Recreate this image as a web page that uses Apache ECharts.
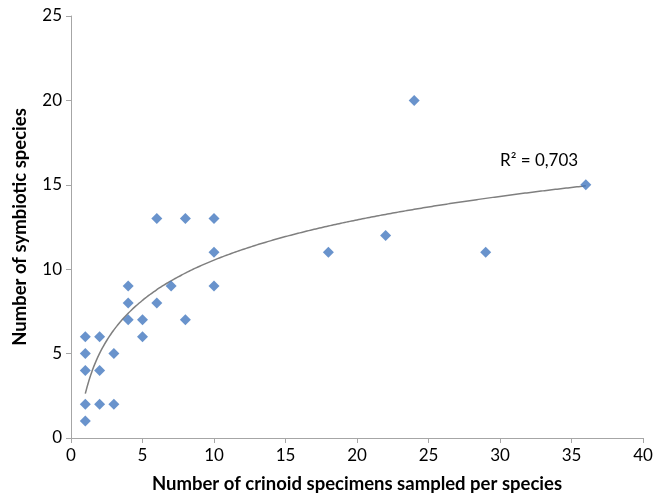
<!DOCTYPE html>
<html>
<head>
<meta charset="utf-8">
<script src="https://cdn.jsdelivr.net/npm/echarts@6/dist/echarts.min.js"></script>
<style>
  html, body { margin: 0; padding: 0; background: #fff; }
  #chart { width: 667px; height: 499px; }
</style>
</head>
<body>
<div id="chart"></div>
<script>
// specimens sampled per species (x) and symbiotic species (y)
var specimens = [1, 1, 1, 1, 1, 2, 2, 2, 3, 3, 4, 4, 4, 5, 5, 6, 6, 7, 8, 8, 10, 10, 10, 18, 22, 24, 29, 36];
var symbionts = [1, 2, 4, 5, 6, 2, 4, 6, 2, 5, 7, 8, 9, 6, 7, 8, 13, 9, 7, 13, 9, 11, 13, 11, 12, 20, 11, 15];
var xTicks = [0, 5, 10, 15, 20, 25, 30, 35, 40];
var yTicks = [0, 5, 10, 15, 20, 25];
var r2Label = "R² = 0,703";

var points = specimens.map(function (x, i) { return [x, symbionts[i]]; });

// logarithmic trendline (least squares of y on ln x), like Excel's
var n = points.length, sl = 0, sy = 0, sll = 0, sly = 0;
points.forEach(function (p) {
  var l = Math.log(p[0]);
  sl += l; sy += p[1]; sll += l * l; sly += l * p[1];
});
var a = (n * sly - sl * sy) / (n * sll - sl * sl);
var b = (sy - a * sl) / n;
var xMin = Math.min.apply(null, specimens), xMax = Math.max.apply(null, specimens);
var trend = [];
for (var x = xMin; x <= xMax + 1e-9; x += 0.25) {
  trend.push([x, a * Math.log(x) + b]);
}

var myChart = echarts.init(document.getElementById("chart"));
var font = "Lato, 'Open Sans', sans-serif";
var option = {
  animation: false,
  grid: { left: 71, right: 24, top: 16, bottom: 61, outerBoundsMode: "none", containLabel: false },
  xAxis: {
    type: "value",
    min: xTicks[0], max: xTicks[xTicks.length - 1], interval: 5,
    name: "Number of crinoid specimens sampled per species",
    nameLocation: "middle",
    nameGap: 37,
    nameTextStyle: { fontFamily: font, fontSize: 18.5, fontWeight: "bold", color: "#000" },
    axisLine: { lineStyle: { color: "#a6a6a6" } },
    axisTick: { show: true, length: 5, lineStyle: { color: "#a6a6a6" } },
    axisLabel: { fontFamily: font, fontSize: 17, color: "#000", margin: 9 },
    splitLine: { show: false }
  },
  yAxis: {
    type: "value",
    min: yTicks[0], max: yTicks[yTicks.length - 1], interval: 5,
    name: "Number of symbiotic species",
    nameLocation: "middle",
    nameGap: 41,
    nameTextStyle: { fontFamily: font, fontSize: 18.5, fontWeight: "bold", color: "#000" },
    axisLine: { show: true, lineStyle: { color: "#a6a6a6" } },
    axisTick: { show: true, length: 5, lineStyle: { color: "#a6a6a6" } },
    axisLabel: { fontFamily: font, fontSize: 17, color: "#000", margin: 9 },
    splitLine: { show: false }
  },
  series: [
    {
      type: "line",
      data: trend,
      smooth: true,
      showSymbol: false,
      lineStyle: { color: "#7f7f7f", width: 1.5 },
      z: 1
    },
    {
      type: "scatter",
      data: points,
      symbol: "diamond",
      symbolSize: 11,
      itemStyle: { color: "#4478bf" },
      z: 2
    }
  ],
  graphic: [{
    type: "text",
    left: 500, top: 152,
    style: { text: r2Label, fontFamily: font, fontSize: 17, fill: "#000" }
  }]
};
myChart.setOption(option);
</script>
</body>
</html>
